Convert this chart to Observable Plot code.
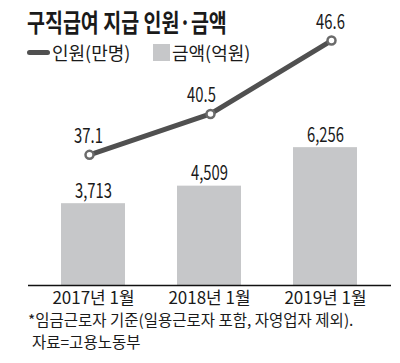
<!DOCTYPE html>
<html><head><meta charset="utf-8">
<script src="https://cdn.jsdelivr.net/npm/d3@7"></script>
<script src="https://cdn.jsdelivr.net/npm/@observablehq/plot@0.6"></script>
<style>
html,body{margin:0;padding:0;background:#fff;}
#wrap{position:relative;width:400px;height:363px;overflow:hidden;font-family:"Noto Sans CJK KR",sans-serif;color:#1a1a1a;}
#wrap svg{position:absolute;left:0;top:0;}
.abs{position:absolute;white-space:nowrap;line-height:1;}
#title{left:27px;top:9px;font-size:25px;font-weight:700;transform:scaleX(0.78);transform-origin:left top;}
.leg{top:43px;font-size:18px;}
#sw1{position:absolute;left:27px;top:50px;width:23px;height:5px;border-radius:3px;background:#505050;}
#sw2{position:absolute;left:153px;top:44px;width:17px;height:17px;background:#c6c7c9;}
.note{left:28px;font-size:15.5px;}
</style></head>
<body><div id="wrap">
<div id="chart"></div>
<div id="title" class="abs">구직급여 지급 인원·금액</div>
<div id="sw1"></div><div class="abs leg" style="left:52px">인원(만명)</div>
<div id="sw2"></div><div class="abs leg" style="left:172px">금액(억원)</div>
<div class="abs note" style="top:312px">*임금근로자 기준(일용근로자 포함, 자영업자 제외).</div>
<div class="abs note" style="top:334px;left:32px">자료=고용노동부</div>
</div>
<script>
const categories = ["2017년 1월", "2018년 1월", "2019년 1월"];
const amounts = [3713, 4509, 6256];      // 금액(억원)
const persons = [37.1, 40.5, 46.6];      // 인원(만명)
const amountLabels = ["3,713", "4,509", "6,256"];
const personLabels = ["37.1", "40.5", "46.6"];

const bars = categories.map((c, i) => ({c, v: amounts[i], label: amountLabels[i]}));
const pts = categories.map((c, i) => ({c, v: persons[i], label: personLabels[i], i}));

const numFont = '"Noto Sans CJK KR",sans-serif';
const common = {
  width: 400, height: 363,
  marginLeft: 28, marginRight: 9, marginTop: 10, marginBottom: 78,
  style: {background: "transparent", overflow: "visible"}
};
const xOpts = {domain: categories, paddingInner: 0.446, paddingOuter: 0.28, label: null};

const p1 = Plot.plot({
  ...common,
  x: {...xOpts, axis: null},
  y: {domain: [0, 12480], axis: null},
  marks: [
    Plot.barY(bars, {x: "c", y: "v", fill: "#c6c7c9"}),
    Plot.text(bars, {x: "c", y: "v", text: "label", dy: -6, lineAnchor: "bottom",
      fontFamily: numFont, fontSize: 20, fill: "#1a1a1a"}),
    Plot.ruleY([0], {stroke: "#111", strokeWidth: 1.6}),
    Plot.axisX({tickSize: 0, tickPadding: 6, fontSize: 17, fill: "#1a1a1a",
      fontFamily: '"Noto Sans CJK KR",sans-serif', label: null})
  ]
});

const p2 = Plot.plot({
  ...common,
  x: {...xOpts, axis: null},
  y: {domain: [26.24, 49.1], axis: null},
  marks: [
    Plot.line(pts, {x: "c", y: "v", stroke: "#505050", strokeWidth: 5}),
    Plot.dot(pts, {x: "c", y: "v", r: 4, fill: "#fff", stroke: "#6a6a6a", strokeWidth: 2.5}),
    Plot.text(pts.filter(d => d.i !== 1), {x: "c", y: "v", text: "label", dy: -12, dx: -1,
      lineAnchor: "bottom", fontFamily: numFont, fontSize: 20, fill: "#1a1a1a"}),
    Plot.text(pts.filter(d => d.i === 1), {x: "c", y: "v", text: "label", dy: -12, dx: -9,
      lineAnchor: "bottom", fontFamily: numFont, fontSize: 20, fill: "#1a1a1a"})
  ]
});

const chart = document.getElementById("chart");
chart.appendChild(p1);
chart.appendChild(p2);

// condense the numeric labels (the reference uses a narrow typeface)
for (const svg of [p1, p2]) {
  svg.querySelectorAll('g[aria-label="text"] text').forEach(el => {
    const L = el.getComputedTextLength();
    el.setAttribute("textLength", (L * 0.74).toFixed(1));
    el.setAttribute("lengthAdjust", "spacingAndGlyphs");
  });
}
</script>
</body></html>
